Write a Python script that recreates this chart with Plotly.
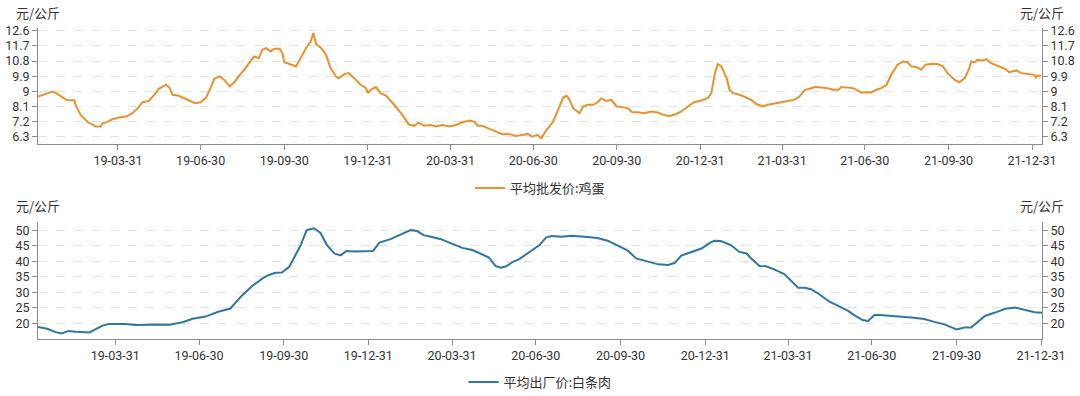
import plotly.graph_objects as go

# ---------------- data ----------------
egg_dates = [
    "2019-01-02", "2019-01-07", "2019-01-14", "2019-01-18", "2019-01-22", "2019-01-27",
    "2019-02-02", "2019-02-05", "2019-02-11", "2019-02-13", "2019-02-18", "2019-02-26",
    "2019-03-03", "2019-03-07", "2019-03-12", "2019-03-14", "2019-03-20", "2019-03-25",
    "2019-04-01", "2019-04-09", "2019-04-16", "2019-04-22", "2019-04-27", "2019-05-04",
    "2019-05-10", "2019-05-15", "2019-05-23", "2019-05-27", "2019-05-30", "2019-06-05",
    "2019-06-10", "2019-06-18", "2019-06-24", "2019-06-30", "2019-07-06", "2019-07-11",
    "2019-07-15", "2019-07-21", "2019-07-26", "2019-08-01", "2019-08-06", "2019-08-12",
    "2019-08-17", "2019-08-23", "2019-08-28", "2019-09-02", "2019-09-06", "2019-09-10",
    "2019-09-15", "2019-09-19", "2019-09-25", "2019-09-28", "2019-09-30", "2019-10-06",
    "2019-10-13", "2019-10-18", "2019-10-24", "2019-10-29", "2019-11-01", "2019-11-04",
    "2019-11-09", "2019-11-15", "2019-11-20", "2019-11-26", "2019-11-29", "2019-12-05",
    "2019-12-10", "2019-12-16", "2019-12-23", "2019-12-29", "2019-12-31", "2020-01-03",
    "2020-01-09", "2020-01-14", "2020-01-20", "2020-01-29", "2020-02-07", "2020-02-14",
    "2020-02-20", "2020-02-25", "2020-03-02", "2020-03-09", "2020-03-15", "2020-03-22",
    "2020-03-30", "2020-04-06", "2020-04-13", "2020-04-21", "2020-04-26", "2020-04-30",
    "2020-05-05", "2020-05-13", "2020-05-20", "2020-05-27", "2020-06-03", "2020-06-11",
    "2020-06-18", "2020-06-24", "2020-06-29", "2020-07-05", "2020-07-09", "2020-07-14",
    "2020-07-22", "2020-07-27", "2020-08-02", "2020-08-06", "2020-08-09", "2020-08-13",
    "2020-08-18", "2020-08-20", "2020-08-24", "2020-08-29", "2020-09-04", "2020-09-09",
    "2020-09-13", "2020-09-18", "2020-09-24", "2020-09-30", "2020-10-06", "2020-10-12",
    "2020-10-17", "2020-10-23", "2020-10-30", "2020-11-07", "2020-11-14", "2020-11-20",
    "2020-11-27", "2020-12-04", "2020-12-10", "2020-12-17", "2020-12-24", "2021-01-01",
    "2021-01-08", "2021-01-12", "2021-01-16", "2021-01-19", "2021-01-23", "2021-01-29",
    "2021-02-01", "2021-02-05", "2021-02-10", "2021-02-17", "2021-02-25", "2021-03-03",
    "2021-03-10", "2021-03-15", "2021-03-23", "2021-03-30", "2021-04-06", "2021-04-13",
    "2021-04-19", "2021-04-25", "2021-04-30", "2021-05-06", "2021-05-13", "2021-05-20",
    "2021-05-26", "2021-06-01", "2021-06-04", "2021-06-10", "2021-06-17", "2021-06-23",
    "2021-06-26", "2021-07-02", "2021-07-07", "2021-07-13", "2021-07-18", "2021-07-24",
    "2021-07-29", "2021-08-05", "2021-08-11", "2021-08-16", "2021-08-20", "2021-08-26",
    "2021-08-31", "2021-09-05", "2021-09-11", "2021-09-18", "2021-09-24", "2021-09-29",
    "2021-10-07", "2021-10-12", "2021-10-18", "2021-10-23", "2021-10-25", "2021-10-29",
    "2021-11-01", "2021-11-07", "2021-11-11", "2021-11-16", "2021-11-24", "2021-12-01",
    "2021-12-06", "2021-12-14", "2021-12-19", "2021-12-27", "2022-01-03", "2022-01-04",
    "2022-01-06", "2022-01-10",
]
egg_values = [
    8.69, 8.79, 8.93, 8.99, 8.89, 8.69,
    8.49, 8.47, 8.47, 8.10, 7.60, 7.16,
    7.04, 6.91, 6.91, 7.10, 7.20, 7.34,
    7.44, 7.50, 7.70, 8.00, 8.35, 8.43,
    8.79, 9.15, 9.39, 9.19, 8.79, 8.75,
    8.63, 8.45, 8.29, 8.35, 8.63, 9.19,
    9.74, 9.88, 9.68, 9.29, 9.54, 9.98,
    10.28, 10.73, 11.07, 10.97, 11.47, 11.57,
    11.37, 11.53, 11.53, 11.27, 10.73, 10.62,
    10.48, 10.97, 11.57, 11.93, 12.46, 11.81,
    11.61, 11.17, 10.38, 9.88, 9.78, 10.02,
    10.08, 9.78, 9.39, 9.19, 8.89, 9.09,
    9.25, 8.89, 8.75, 8.20, 7.60, 7.04,
    6.95, 7.14, 6.96, 7.00, 6.91, 7.00,
    6.91, 7.00, 7.16, 7.26, 7.20, 6.96,
    6.95, 6.77, 6.61, 6.45, 6.47, 6.35,
    6.41, 6.47, 6.31, 6.41, 6.21, 6.65,
    7.20, 7.90, 8.63, 8.73, 8.49, 8.00,
    7.76, 7.70, 8.10, 8.20, 8.20, 8.35,
    8.59, 8.43, 8.49, 8.10, 8.06, 8.00,
    7.76, 7.76, 7.70, 7.80, 7.74, 7.60,
    7.54, 7.64, 7.80, 8.10, 8.35, 8.45,
    8.59, 8.89, 10.08, 10.62, 10.48, 9.78,
    9.09, 8.89, 8.83, 8.69, 8.49, 8.23,
    8.10, 8.20, 8.26, 8.35, 8.43, 8.49,
    8.69, 9.09, 9.15, 9.25, 9.23, 9.19,
    9.09, 9.09, 9.25, 9.23, 9.19, 9.03,
    8.93, 8.95, 8.93, 9.09, 9.19, 9.39,
    9.98, 10.58, 10.77, 10.73, 10.48, 10.44,
    10.28, 10.58, 10.64, 10.62, 10.48, 10.08,
    9.68, 9.54, 9.78, 10.38, 10.77, 10.73,
    10.87, 10.83, 10.91, 10.67, 10.48, 10.34,
    10.14, 10.24, 10.08, 10.02, 9.98, 9.82,
    9.94, 9.92,
]

pork_dates = [
    "2019-01-06", "2019-01-16", "2019-01-25", "2019-02-01", "2019-02-08", "2019-02-16",
    "2019-03-03", "2019-03-10", "2019-03-17", "2019-03-24", "2019-04-11", "2019-04-22",
    "2019-05-06", "2019-05-17", "2019-05-29", "2019-06-12", "2019-06-23", "2019-07-07",
    "2019-07-20", "2019-08-03", "2019-08-16", "2019-08-27", "2019-09-07", "2019-09-14",
    "2019-09-21", "2019-09-28", "2019-10-06", "2019-10-18", "2019-10-25", "2019-11-02",
    "2019-11-09", "2019-11-16", "2019-11-24", "2019-12-01", "2019-12-07", "2019-12-17",
    "2020-01-05", "2020-01-12", "2020-01-24", "2020-02-06", "2020-02-15", "2020-02-22",
    "2020-02-29", "2020-03-08", "2020-03-19", "2020-04-01", "2020-04-11", "2020-04-22",
    "2020-05-01", "2020-05-10", "2020-05-17", "2020-05-23", "2020-05-29", "2020-06-05",
    "2020-06-12", "2020-06-23", "2020-07-04", "2020-07-11", "2020-07-17", "2020-07-28",
    "2020-08-08", "2020-08-22", "2020-09-05", "2020-09-16", "2020-09-27", "2020-10-08",
    "2020-10-17", "2020-10-30", "2020-11-10", "2020-11-21", "2020-11-28", "2020-12-05",
    "2020-12-16", "2020-12-27", "2021-01-05", "2021-01-10", "2021-01-17", "2021-01-28",
    "2021-02-06", "2021-02-14", "2021-02-19", "2021-02-28", "2021-03-07", "2021-03-16",
    "2021-03-27", "2021-04-03", "2021-04-11", "2021-04-18", "2021-04-25", "2021-05-04",
    "2021-05-15", "2021-05-24", "2021-06-04", "2021-06-11", "2021-06-20", "2021-06-26",
    "2021-07-03", "2021-07-09", "2021-07-18", "2021-07-29", "2021-08-12", "2021-08-26",
    "2021-09-06", "2021-09-17", "2021-09-30", "2021-10-09", "2021-10-16", "2021-10-31",
    "2021-11-11", "2021-11-22", "2021-12-03", "2021-12-13", "2021-12-24", "2022-01-01",
]
pork_values = [
    18.9, 18.3, 17.2, 16.8, 17.6, 17.3,
    17.1, 18.1, 19.3, 19.8, 19.8, 19.5,
    19.7, 19.7, 19.6, 20.4, 21.5, 22.2,
    23.7, 24.8, 29.1, 32.1, 34.5, 35.6,
    36.3, 36.4, 38.2, 44.9, 50.0, 50.6,
    49.1, 45.2, 42.5, 41.9, 43.3, 43.1,
    43.3, 46.0, 47.1, 48.9, 50.0, 49.7,
    48.4, 47.9, 47.1, 45.5, 44.3, 43.6,
    42.5, 41.2, 38.5, 37.9, 38.4, 39.8,
    40.7, 43.0, 45.2, 47.6, 48.1, 47.9,
    48.2, 47.9, 47.5, 46.6, 44.9, 43.4,
    40.9, 39.8, 39.0, 38.8, 39.5, 41.8,
    43.0, 44.1, 45.9, 46.6, 46.5, 45.2,
    43.0, 42.5, 40.9, 38.5, 38.4, 37.4,
    35.9, 33.9, 31.5, 31.5, 31.0, 29.4,
    27.0, 25.7, 24.1, 22.7, 21.1, 20.8,
    22.7, 22.7, 22.4, 22.2, 21.9, 21.4,
    20.5, 19.7, 18.1, 18.7, 18.7, 22.4,
    23.5, 24.7, 25.1, 24.3, 23.6, 23.4,
]

egg_name = "平均批发价:鸡蛋"
pork_name = "平均出厂价:白条肉"
unit_label = "元/公斤"

quarter_ticks = [
    "2019-03-31", "2019-06-30", "2019-09-30", "2019-12-31",
    "2020-03-31", "2020-06-30", "2020-09-30", "2020-12-31",
    "2021-03-31", "2021-06-30", "2021-09-30", "2021-12-31",
]
egg_yticks = [6.3, 7.2, 8.1, 9, 9.9, 10.8, 11.7, 12.6]
pork_yticks = [20, 25, 30, 35, 40, 45, 50]

# ---------------- styles ----------------
EGG_COLOR = "#e8912f"
PORK_COLOR = "#2f77a0"
AXIS_COLOR = "#8c8c8c"
GRID_COLOR = "#e2e2e2"
TEXT_COLOR = "#333333"
CJK_FONT = "Noto Sans CJK SC, Noto Sans, sans-serif"
NUM_FONT = "Roboto, Liberation Sans, sans-serif"

FIG_W, FIG_H = 1080, 396

fig = go.Figure()
fig.add_trace(go.Scatter(x=egg_dates, y=egg_values, mode="lines", name=egg_name,
                         line=dict(color=EGG_COLOR, width=2), xaxis="x", yaxis="y",
                         legend="legend"))
fig.add_trace(go.Scatter(x=egg_dates, y=egg_values, mode="lines", showlegend=False,
                         opacity=0, hoverinfo="skip", xaxis="x", yaxis="y3"))
fig.add_trace(go.Scatter(x=pork_dates, y=pork_values, mode="lines", name=pork_name,
                         line=dict(color=PORK_COLOR, width=2), xaxis="x2", yaxis="y2",
                         legend="legend2"))
fig.add_trace(go.Scatter(x=pork_dates, y=pork_values, mode="lines", showlegend=False,
                         opacity=0, hoverinfo="skip", xaxis="x2", yaxis="y4"))

tickfont = dict(family=NUM_FONT, size=12.5, color=TEXT_COLOR)

def xaxis_cfg(anchor, rng):
    return dict(anchor=anchor, domain=[0, 1], range=rng, type="date",
                tickvals=quarter_ticks, tickformat="%y-%m-%d", automargin=False,
                showline=True, linecolor=AXIS_COLOR, linewidth=1,
                ticks="outside", ticklen=5, tickcolor=AXIS_COLOR,
                showgrid=False, zeroline=False, tickfont=tickfont)

def yaxis_cfg(anchor, rng, tv, grid):
    return dict(anchor=anchor, range=rng, tickvals=tv, automargin=False,
                showline=True, linecolor=AXIS_COLOR, linewidth=1,
                ticks="outside", ticklen=5, tickcolor=AXIS_COLOR,
                showgrid=grid, gridcolor=GRID_COLOR, griddash="dash",
                zeroline=False, tickfont=tickfont)

top_dom = [0.627, 1.0]
bot_dom = [0.0, 0.376]
egg_range = [5.87, 12.76]
pork_range = [15.0, 52.6]

y1 = yaxis_cfg("x", egg_range, egg_yticks, True)
y1.update(domain=top_dom)
y2 = yaxis_cfg("x2", pork_range, pork_yticks, True)
y2.update(domain=bot_dom)
y3 = yaxis_cfg("x", egg_range, egg_yticks, False)
y3.update(overlaying="y", side="right")
y4 = yaxis_cfg("x2", pork_range, pork_yticks, False)
y4.update(overlaying="y2", side="right")

fig.update_layout(
    width=FIG_W, height=FIG_H,
    margin=dict(l=38, r=38, t=28, b=57, autoexpand=False),
    paper_bgcolor="white", plot_bgcolor="white",
    font=dict(family=CJK_FONT, size=13, color=TEXT_COLOR),
    xaxis=xaxis_cfg("y", ["2019-01-02", "2022-01-11"]),
    xaxis2=xaxis_cfg("y2", ["2019-01-06", "2022-01-01"]),
    yaxis=y1, yaxis2=y2, yaxis3=y3, yaxis4=y4,
    legend=dict(x=0.5, xanchor="center", y=1 - 188 / FIG_H, yanchor="middle",
                xref="container", yref="container",
                orientation="h", font=dict(family=CJK_FONT, size=13, color=TEXT_COLOR),
                bgcolor="rgba(0,0,0,0)"),
    legend2=dict(x=0.5, xanchor="center", y=1 - 382 / FIG_H, yanchor="middle",
                 xref="container", yref="container",
                 orientation="h", font=dict(family=CJK_FONT, size=13, color=TEXT_COLOR),
                 bgcolor="rgba(0,0,0,0)"),
    showlegend=True,
)

for xpos in (0, 1):
    for ypos in (1.051, 0.4277):
        fig.add_annotation(text=unit_label, xref="paper", yref="paper",
                           x=xpos, y=ypos, xanchor="center", yanchor="middle",
                           showarrow=False,
                           font=dict(family=CJK_FONT, size=13, color=TEXT_COLOR))

fig.write_html(
    "out.html",
    config={"displayModeBar": False},
    post_script="document.body.style.margin='0';document.body.style.overflow='hidden';",
)
